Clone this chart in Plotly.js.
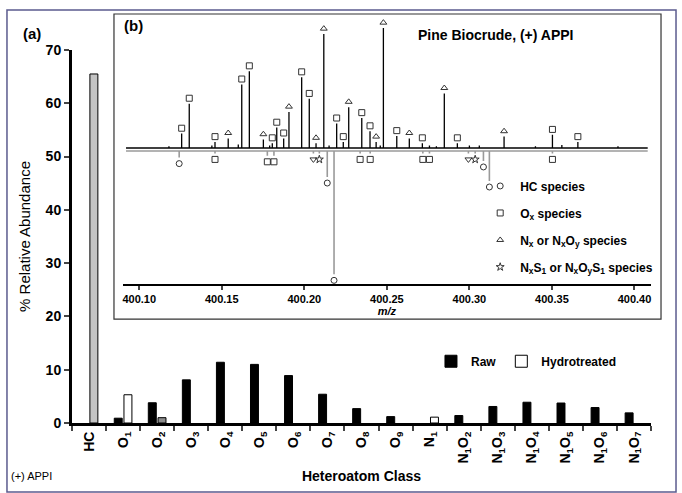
<!DOCTYPE html>
<html>
<head>
<meta charset="utf-8">
<script src="https://cdn.plot.ly/plotly-3.0.1.min.js"></script>
<style>
html,body{margin:0;padding:0;background:#fff;}
#chart{width:682px;height:493px;}
</style>
</head>
<body>
<div id="chart"></div>
<script>
// ---------- (a) bar chart data ----------
const categories = ['HC','O1','O2','O3','O4','O5','O6','O7','O8','O9','N1','N1O2','N1O3','N1O4','N1O5','N1O6','N1O7'];
const tickLabels = ['HC','O<sub>1</sub>','O<sub>2</sub>','O<sub>3</sub>','O<sub>4</sub>','O<sub>5</sub>','O<sub>6</sub>','O<sub>7</sub>','O<sub>8</sub>','O<sub>9</sub>','N<sub>1</sub>',
  'N<sub>1</sub>O<sub>2</sub>','N<sub>1</sub>O<sub>3</sub>','N<sub>1</sub>O<sub>4</sub>','N<sub>1</sub>O<sub>5</sub>','N<sub>1</sub>O<sub>6</sub>','N<sub>1</sub>O<sub>7</sub>'];
const rawValues   = [null,0.9,3.8,8.1,11.4,11.0,8.9,5.4,2.7,1.2,null,1.4,3.1,3.9,3.75,2.9,1.9];
const hydroValues = [65.5,5.3,1.0,null,null,null,null,null,null,null,1.1,null,null,null,null,null,null];
const hydroColors = ['#c4c4c4','#ffffff','#8c8c8c','#fff','#fff','#fff','#fff','#fff','#fff','#fff','#ffffff','#fff','#fff','#fff','#fff','#fff','#fff'];
const yTicks = [0,10,20,30,40,50,60,70];

// ---------- (b) inset spectrum data (m/z, relative height, class) ----------
// Raw (black, upward)
const rawPeakMz = [400.1257,400.1303,400.1459,400.1539,400.1621,400.1667,400.1752,400.1806,400.1833,400.1875,
  400.1907,400.1984,400.2030,400.2071,400.2118,400.2196,400.2236,400.2269,400.2348,400.2398,
  400.2435,400.2479,400.2560,400.2636,400.2715,400.2848,400.2927,400.3210,400.3503,400.3657];
const rawPeakH = [12,37,5,8,53,64,7,4,17,8,
  30,59,41,4,95,20.5,5,34,25,14,
  5,100,10,8,4,45.5,4,9.5,11,5];
const rawPeakClass = ['O','O','O','N','O','O','N','O','O','O',
  'N','O','O','N','N','O','O','N','O','O',
  'N','N','O','N','O','N','O','N','O','O'];
const rawMinorMz = [400.1180,400.1440,400.1600,400.1790,400.2150,400.2460,400.2758,400.2800,400.3000,400.3060,400.3400,400.3560,400.3900];
const rawMinorH  = [1.5,2,3,2,2,2,2,1.5,2,2,1.5,2.5,1.5];
// Hydrotreated (gray, downward)
const hydPeakMz = [400.1242,400.1459,400.1776,400.1816,400.2055,400.2091,400.2139,400.2180,400.2338,400.2399,
  400.2718,400.2758,400.2994,400.3035,400.3085,400.3121,400.3503];
const hydPeakD = [5.5,2,4,4,2,2,21.7,102.8,2,2,
  2,2,2,2,8.3,25,2];
const hydPeakClass = ['HC','O','O','O','D','S','HC','HC','O','O',
  'O','O','D','S','HC','HC','O'];

const xTickMz = [400.10,400.15,400.20,400.25,400.30,400.35,400.40];
const xTickText = ['400.10','400.15','400.20','400.25','400.30','400.35','400.40'];

// ---------- build traces ----------
const BOLD = 'Liberation Sans, Arial, sans-serif';
const NARROW = 'Liberation Sans Narrow, Arial Narrow, Liberation Sans, sans-serif';
const RAW_BASE = 0, HYD_BASE = -2.5;
const UP_OFF = 4.5, DOWN_OFF = 5;

const traces = [];
traces.push({type:'bar', name:'Raw', x:categories, y:rawValues, xaxis:'x', yaxis:'y', offsetgroup:'raw',
  marker:{color:'#000', line:{color:'#000', width:1}}, legend:'legend', hoverinfo:'skip'});
// hydrotreated: HC bar drawn as its own trace (shaded), the rest white; both share one offset group
const hcOnly = hydroValues.map((v,i)=> i===0 ? v : null);
const restHydro = hydroValues.map((v,i)=> i===0 ? null : v);
traces.push({type:'bar', name:'Hydrotreated', x:categories, y:restHydro, xaxis:'x', yaxis:'y', offsetgroup:'hydro',
  marker:{color:hydroColors.map((c,i)=> i===0 ? '#fff' : c), line:{color:'#000', width:1}}, legend:'legend', hoverinfo:'skip'});
traces.push({type:'bar', name:'Hydrotreated HC', x:categories, y:hcOnly, xaxis:'x', yaxis:'y', offsetgroup:'hydro', showlegend:false,
  marker:{color:hydroColors[0], line:{color:'#000', width:1}}, hoverinfo:'skip'});

function sticks(mzs, hs, base, sign){
  const xs=[], ys=[];
  for(let i=0;i<mzs.length;i++){ xs.push(mzs[i],mzs[i],null); ys.push(base, base+sign*hs[i], null); }
  return {xs, ys};
}
const lo = 400.092, hi = 400.408;
let g = sticks(hydPeakMz, hydPeakD, HYD_BASE, -1);
traces.push({type:'scatter', mode:'lines', x:[lo,hi,null].concat(g.xs), y:[HYD_BASE,HYD_BASE,null].concat(g.ys),
  xaxis:'x2', yaxis:'y2', line:{color:'#9a9a9a', width:1.6}, showlegend:false, hoverinfo:'skip'});
let b1 = sticks(rawPeakMz, rawPeakH, RAW_BASE, 1);
let b2 = sticks(rawMinorMz, rawMinorH, RAW_BASE, 1);
traces.push({type:'scatter', mode:'lines', x:[lo,hi,null].concat(b1.xs, b2.xs), y:[RAW_BASE,RAW_BASE,null].concat(b1.ys, b2.ys),
  xaxis:'x2', yaxis:'y2', line:{color:'#000', width:1.3}, showlegend:false, hoverinfo:'skip'});

function markerTrace(mzs, hs, classes, cls, dir, symbol, name, showlegend, group){
  const xs=[], ys=[];
  for(let i=0;i<mzs.length;i++){
    if(classes[i]!==cls) continue;
    xs.push(mzs[i]);
    ys.push(dir>0 ? RAW_BASE+hs[i]+UP_OFF : HYD_BASE-hs[i]-DOWN_OFF);
  }
  return {type:'scatter', mode:'markers', x:xs, y:ys, xaxis:'x2', yaxis:'y2', name:name,
    legend:'legend2', legendgroup:group, showlegend:showlegend, hoverinfo:'skip',
    marker:{symbol:symbol, size:6, color:'#333', line:{color:'#333', width:1}}};
}
traces.push(markerTrace(hydPeakMz, hydPeakD, hydPeakClass, 'HC', -1, 'circle-open', '<b>HC species</b>', true, 'g1'));
traces.push(markerTrace(rawPeakMz, rawPeakH, rawPeakClass, 'O', 1, 'square-open', '<b>O<sub>x</sub> species</b>', true, 'g2'));
traces.push(markerTrace(hydPeakMz, hydPeakD, hydPeakClass, 'O', -1, 'square-open', 'Ox down', false, 'g2'));
traces.push(markerTrace(rawPeakMz, rawPeakH, rawPeakClass, 'N', 1, 'triangle-up-open', '<b>N<sub>x</sub> or N<sub>x</sub>O<sub>y</sub> species</b>', true, 'g3'));
traces.push(markerTrace(hydPeakMz, hydPeakD, hydPeakClass, 'S', -1, 'star-open', '<b>N<sub>x</sub>S<sub>1</sub> or N<sub>x</sub>O<sub>y</sub>S<sub>1</sub> species</b>', true, 'g4'));
traces.push(markerTrace(hydPeakMz, hydPeakD, hydPeakClass, 'D', -1, 'triangle-down-open', 'other', false, 'g5'));

const layout = {
  width:682, height:493,
  margin:{l:72, r:31, t:14, b:70},
  paper_bgcolor:'#fff', plot_bgcolor:'rgba(0,0,0,0)',
  barmode:'group', bargap:0.43, bargroupgap:0.18,
  font:{family:BOLD, color:'#000'},
  xaxis:{domain:[0,1], anchor:'y', type:'category', tickvals:categories, ticktext:tickLabels, tickangle:-90,
    tickfont:{size:14, family:BOLD, weight:'bold'}, showline:true, linewidth:3, linecolor:'#000',
    ticks:'outside', ticklen:5, tickwidth:2, tickson:'boundaries', showgrid:false, zeroline:false,
    title:{text:'<b>Heteroatom Class</b>', font:{size:14, family:NARROW}, standoff:9}},
  yaxis:{domain:[0,0.912], anchor:'x', range:[0,70], tickvals:yTicks, showline:true, linewidth:3, linecolor:'#000',
    ticks:'outside', ticklen:5, tickwidth:2, showgrid:false, zeroline:false,
    tickfont:{size:14, family:BOLD, weight:'bold'},
    title:{text:'% Relative Abundance', font:{size:15, family:BOLD}, standoff:12}},
  xaxis2:{domain:[0.0876,1], anchor:'y2', range:[lo-0.002, hi+0.002], tickvals:xTickMz, ticktext:xTickText,
    showline:true, linewidth:2, linecolor:'#000', ticks:'outside', ticklen:4, tickwidth:2, showgrid:false, zeroline:false,
    tickfont:{size:11, family:BOLD, weight:'bold'},
    title:{text:'<b><i>m/z</i></b>', font:{size:11, family:BOLD}, standoff:0}},
  yaxis2:{domain:[0.340,0.995], anchor:'x2', range:[-113.3,110], visible:false},
  legend:{orientation:'h', x:0.62, y:0.151, xanchor:'left', yanchor:'middle', bgcolor:'rgba(0,0,0,0)',
    font:{size:12, family:NARROW, weight:'bold'}, itemwidth:30, traceorder:'normal'},
  legend2:{x:0.705, y:0.615, xanchor:'left', yanchor:'top', bgcolor:'rgba(0,0,0,0)', traceorder:'grouped', tracegroupgap:8,
    font:{size:12, family:NARROW}, itemwidth:30},
  shapes:[
    {type:'rect', xref:'paper', yref:'paper', x0:-0.1123, x1:1.0432, y0:-0.1687, y1:1.0098, line:{color:'#5b5b8e', width:1.5}, layer:'below'},
    {type:'rect', xref:'paper', yref:'paper', x0:0.0725, x1:1.0173, y0:0.254, y1:1.0, line:{color:'#333', width:1.2}, fillcolor:'#fff', layer:'below'}
  ],
  annotations:[
    {text:'<b>(a)</b>', xref:'paper', yref:'paper', x:-0.088, y:0.9535, xanchor:'left', yanchor:'middle', showarrow:false, font:{size:15, family:NARROW}},
    {text:'<b>(b)</b>', xref:'paper', yref:'paper', x:0.086, y:0.973, xanchor:'left', yanchor:'middle', showarrow:false, font:{size:15, family:NARROW}},
    {text:'<b>Pine Biocrude, (+) APPI</b>', xref:'paper', yref:'paper', x:0.594, y:0.9487, xanchor:'left', yanchor:'middle', showarrow:false, font:{size:14, family:NARROW}},
    {text:'(+) APPI', xref:'paper', yref:'paper', x:-0.108, y:-0.13, xanchor:'left', yanchor:'middle', showarrow:false, font:{size:11, family:NARROW}}
  ]
};

Plotly.newPlot('chart', traces, layout, {staticPlot:true, displayModeBar:false});
</script>
</body>
</html>
